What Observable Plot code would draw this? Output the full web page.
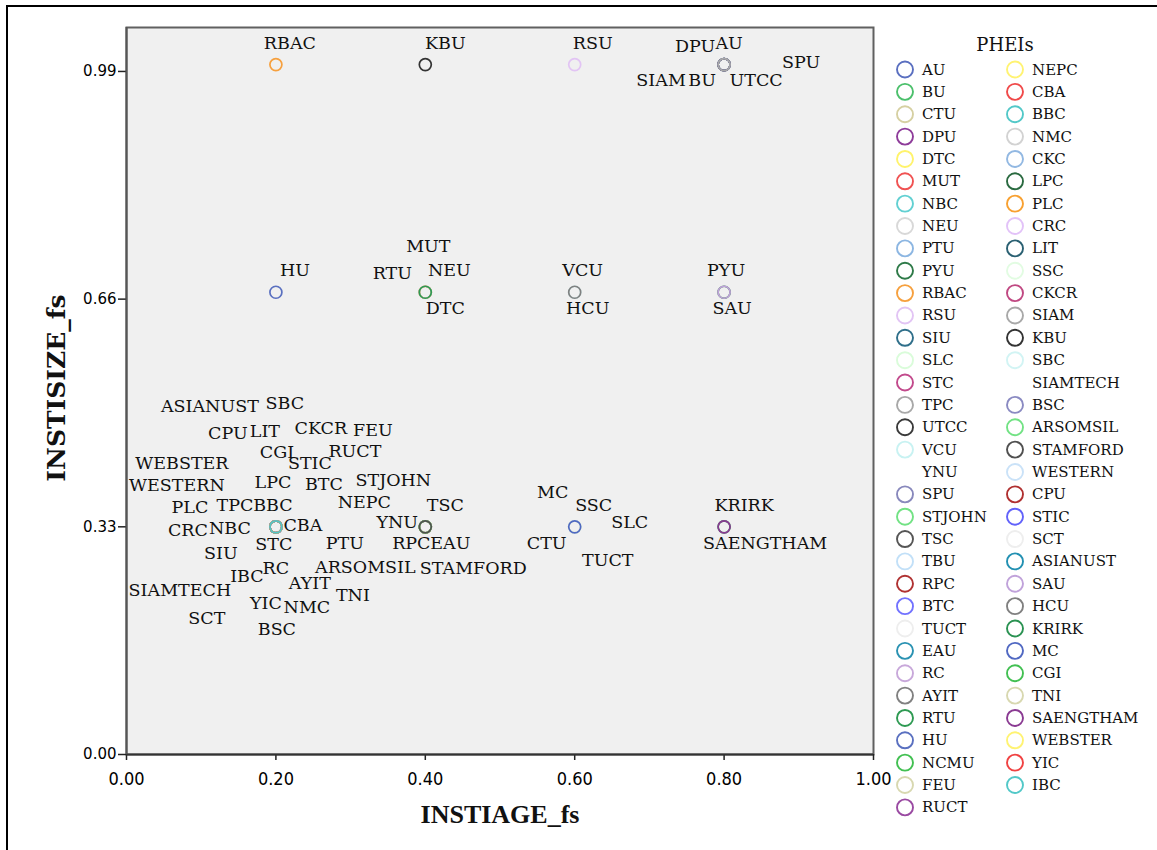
<!DOCTYPE html>
<html>
<head>
<meta charset="utf-8">
<script src="https://cdn.jsdelivr.net/npm/d3@7"></script>
<script src="https://cdn.jsdelivr.net/npm/@observablehq/plot@0.6"></script>
<style>
  html, body { margin: 0; padding: 0; background: #fff; overflow: hidden; }
  #wrap { position: relative; width: 1157px; height: 850px; overflow: hidden; }
  #border { position: absolute; left: 6px; top: 5px; width: 1200px; height: 900px; border: 2.5px solid #000; box-sizing: border-box; }
  #chart { position: absolute; left: 0; top: 0; }
  #legend { position: absolute; left: 0; top: 0; }
  .axtitle { position: absolute; font-family: "Liberation Serif", serif; font-weight: bold; color: #111; white-space: nowrap; }
  #xtitle { left: 500px; top: 815px; transform: translate(-50%, -50%); font-size: 26px; }
  #ytitle { left: 56px; top: 388px; transform: translate(-50%, -50%) rotate(-90deg); font-size: 25px; font-family: "DejaVu Serif", serif; }
</style>
</head>
<body>
<div id="wrap">
  <div id="border"></div>
  <div id="chart"></div>
  <svg id="legend" width="1157" height="850"></svg>
  <div id="xtitle" class="axtitle">INSTIAGE_fs</div>
  <div id="ytitle" class="axtitle">INSTISIZE_fs</div>
</div>
<script>
// ---------------- data (legend order = drawing order) ----------------
const phei = [
  "AU","BU","CTU","DPU","DTC","MUT","NBC","NEU","PTU","PYU","RBAC","RSU","SIU","SLC","STC","TPC","UTCC",
  "VCU","YNU","SPU","STJOHN","TSC","TBU","RPC","BTC","TUCT","EAU","RC","AYIT","RTU","HU","NCMU","FEU","RUCT",
  "NEPC","CBA","BBC","NMC","CKC","LPC","PLC","CRC","LIT","SSC","CKCR","SIAM","KBU","SBC","SIAMTECH","BSC",
  "ARSOMSIL","STAMFORD","WESTERN","CPU","STIC","SCT","ASIANUST","SAU","HCU","KRIRK","MC","CGI","TNI",
  "SAENGTHAM","WEBSTER","YIC","IBC"
];
const instiAge = [
  0.8,0.8,0.6,0.8,0.4,0.4,0.2,0.4,0.2,0.8,0.2,0.6,0.2,0.6,0.2,0.2,0.8,
  0.6,0.4,0.8,0.4,0.4,null,0.4,0.2,0.6,0.4,0.2,0.2,0.4,0.2,null,0.2,0.2,
  0.4,0.2,0.2,0.2,null,0.2,0.2,0.2,0.2,0.6,0.2,0.8,0.4,0.2,0.2,0.2,
  0.4,0.4,0.2,0.2,0.2,0.2,0.2,0.8,0.6,0.8,0.6,0.2,0.2,
  0.8,0.2,0.2,0.2
];
const instiSize = [
  1.0,1.0,0.33,1.0,0.67,0.67,0.33,0.67,0.33,0.67,1.0,1.0,0.33,0.33,0.33,0.33,1.0,
  0.67,0.33,1.0,0.33,0.33,null,0.33,0.33,0.33,0.33,0.33,0.33,0.67,0.67,null,0.33,0.33,
  0.33,0.33,0.33,0.33,null,0.33,0.33,0.33,0.33,0.33,0.33,1.0,1.0,0.33,0.33,0.33,
  0.33,0.33,0.33,0.33,0.33,0.33,0.33,0.67,0.67,0.33,0.33,0.33,0.33,
  0.33,0.33,0.33,0.33
];
const pheiColors = [
  "#5a6fc0","#4cc06c","#d6d0a2","#8e3c9a","#fff36b","#f05252","#62d0d2","#d8d8d8","#8cb6e2","#2e7a48","#f6a03e","#e2c4f4","#2f6f8a","#dafcda","#c24a8c","#a8a8a8","#3a3a3a",
  "#c8f2f2",null,"#8888bc","#72e284","#555555","#c2e0f8","#b03232","#7272ff","#eeeeee","#2a92b2","#c8a8da","#808080","#2e9a52","#5a70c0","#42c052","#d8d8b0","#9a4aa2",
  "#fff372","#f04a4a","#52c8c8","#d2d2d2","#92b8e2","#2a6a40","#f8a030","#e2c2f8","#2a6072","#e2fce2","#c04882","#a8a8a8","#333333","#d2f4f4",null,"#8a8ac2",
  "#72e284","#505050","#cae2f8","#b03030","#6262fa","#eeeeee","#2290b2","#c0a2da","#808080","#2a9252","#5068c2","#42c052","#d8d8b0",
  "#8a3a92","#fff372","#f04242","#52c8c8"
];
const xTicks = [0, 0.2, 0.4, 0.6, 0.8, 1.0];
const yTicks = [0, 0.33, 0.66, 0.99];

// label placement around each point (pixel offsets, as in the reference's label layout)
const labelOffset = {
  RBAC:[14,-21], KBU:[20,-21], RSU:[18,-21], DPU:[-29,-18], AU:[5,-21], SPU:[77,-2], SIAM:[-63,16], BU:[-22,16], UTCC:[32,16],
  HU:[19,-22], MUT:[3,-46], RTU:[-33,-19], NEU:[24,-22], DTC:[20,16], VCU:[8,-22], HCU:[13,16], PYU:[2,-22], SAU:[8,16],
  TSC:[20,-21], YNU:[-28,-4], RPC:[-14,17], EAU:[25,17], STAMFORD:[48,42], NEPC:[-61,-24], STJOHN:[-32,-46], ARSOMSIL:[-60,41],
  MC:[-22,-34], SSC:[19,-21], SLC:[55,-4], CTU:[-28,17], TUCT:[33,34], KRIRK:[20,-21], SAENGTHAM:[41,17],
  ASIANUST:[-66,-120], SBC:[9,-123], CPU:[-48,-93], LIT:[-11,-95], CKCR:[45,-98], FEU:[97,-96], CGI:[1,-74], STIC:[34,-63],
  RUCT:[79,-75], WEBSTER:[-94,-63], WESTERN:[-99,-41], LPC:[-3,-44], BTC:[48,-42], PLC:[-86,-19], TPC:[-41,-21], BBC:[-3,-21],
  CRC:[-88,4], NBC:[-46,2], CBA:[27,-1], STC:[-2,18], SIU:[-55,27], RC:[0,42], IBC:[-29,50], AYIT:[34,57], SIAMTECH:[-96,64],
  YIC:[-10,77], NMC:[31,81], SCT:[-69,92], BSC:[1,103], PTU:[69,17], TNI:[77,69]
};

// ---------------- build ----------------
const rows = phei.map((name, i) => ({name, x: instiAge[i], y: instiSize[i], color: pheiColors[i]}));
const pts = rows.filter(d => d.x != null && d.y != null);

const labelMarks = pts.filter(d => labelOffset[d.name]).map(d => {
  const [dx, dy] = labelOffset[d.name];
  return Plot.text([d], {
    x: "x", y: "y", text: "name", dx, dy,
    textAnchor: "middle", lineAnchor: "middle",
    fontSize: 17.5, fontFamily: "DejaVu Serif", fill: "#111"
  });
});

const chart = Plot.plot({
  width: 880, height: 850,
  marginLeft: 126, marginRight: 7, marginTop: 27, marginBottom: 96,
  x: {domain: [0, 1]},
  y: {domain: [0, 1.0537]},
  color: {type: "identity"},
  style: {background: "transparent", overflow: "visible"},
  marks: [
    Plot.frame({fill: "#f0f0f0", stroke: "#606060", strokeWidth: 2}),
    Plot.axisX({ticks: xTicks, tickFormat: d3.format(".2f"), tickSize: 6, tickPadding: 12,
      fontSize: 18, fontFamily: "DejaVu Sans Condensed", label: null, stroke: "#222", strokeWidth: 1.5}),
    Plot.axisY({ticks: yTicks, tickFormat: d3.format(".2f"), tickSize: 8, tickPadding: 2,
      fontSize: 15, fontFamily: "DejaVu Sans", label: null, stroke: "#222", strokeWidth: 1.5}),
    Plot.ruleY([0], {stroke: "#333", strokeWidth: 2}),
    Plot.ruleX([0], {stroke: "#555", strokeWidth: 2}),
    Plot.dot(pts.filter(d => d.color), {x: "x", y: "y", stroke: "color", r: 6, strokeWidth: 1.7}),
    ...labelMarks
  ]
});
document.getElementById("chart").append(chart);

// ---------------- legend ----------------
const lg = d3.select("#legend");
lg.append("text").attr("x", 1005).attr("y", 44).attr("text-anchor", "middle").attr("dominant-baseline", "central")
  .attr("font-family", "DejaVu Serif").attr("font-size", 18).attr("fill", "#111").text("PHEIs");
const perCol = 34;
rows.forEach((d, i) => {
  const col = i < perCol ? 0 : 1;
  const row = col === 0 ? i : i - perCol;
  const cy = 69.5 + row * 22.36;
  const cx = col === 0 ? 905 : 1015;
  if (d.color) {
    lg.append("circle").attr("cx", cx).attr("cy", cy).attr("r", 8)
      .attr("fill", "none").attr("stroke", d.color).attr("stroke-width", 1.9);
  }
  lg.append("text").attr("x", cx + 17).attr("y", cy).attr("dominant-baseline", "central")
    .attr("font-family", "DejaVu Serif").attr("font-size", 15).attr("fill", "#111").text(d.name);
});
</script>
</body>
</html>
